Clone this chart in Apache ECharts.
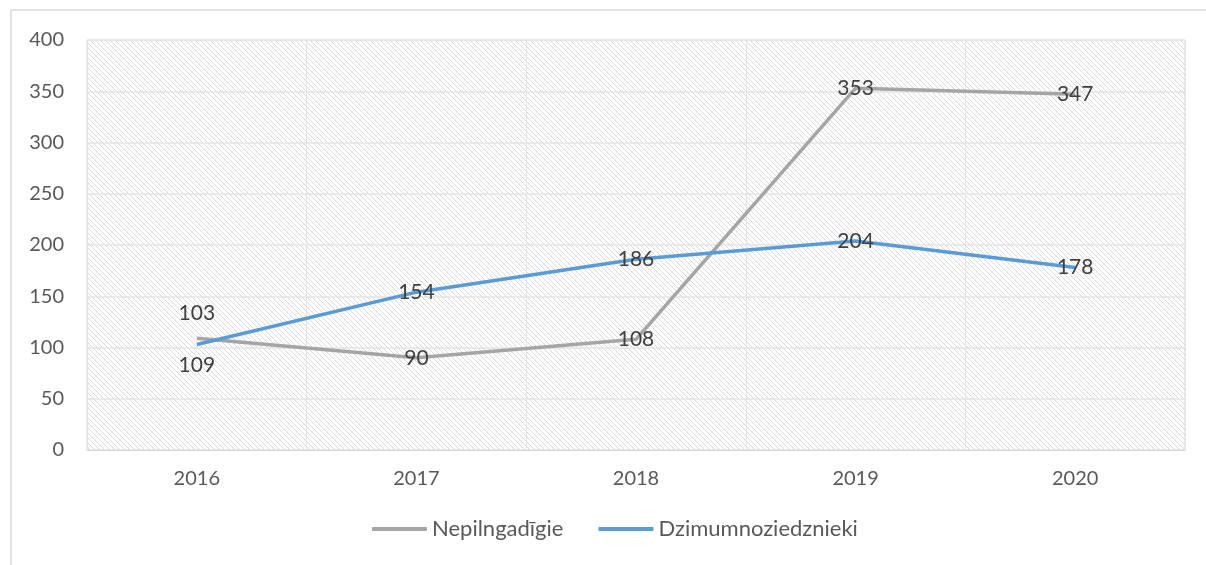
<!DOCTYPE html>
<html>
<head>
<meta charset="UTF-8">
<title></title>
<script src="https://cdn.jsdelivr.net/npm/echarts@6/dist/echarts.min.js"></script>
<style>
  html, body { margin: 0; padding: 0; background: #fff; }
  #chart { width: 1206px; height: 565px; }
</style>
</head>
<body>
<div id="chart"></div>
<script>
var years = ['2016', '2017', '2018', '2019', '2020'];
var nepilngadigie = [109, 90, 108, 353, 347];
var dzimum = [103, 154, 186, 204, 178];
var yTicks = [0, 50, 100, 150, 200, 250, 300, 350, 400];

// hatched plot background
var cv = document.createElement('canvas');
cv.width = 5; cv.height = 5;
var cx = cv.getContext('2d');
cx.fillStyle = '#ffffff';
cx.fillRect(0, 0, 5, 5);
cx.strokeStyle = '#d9d9d9';
cx.lineWidth = 1;
cx.beginPath();
cx.moveTo(-1, -1); cx.lineTo(6, 6);
cx.moveTo(-1, 4); cx.lineTo(2, 7);
cx.moveTo(4, -1); cx.lineTo(7, 2);
cx.stroke();

var chart = echarts.init(document.getElementById('chart'));

function mkData(vals, special) {
  var out = [];
  for (var i = 0; i < vals.length; i++) {
    if (special && special[i] !== undefined) {
      out.push({ value: vals[i], label: { offset: [0, special[i]] } });
    } else {
      out.push(vals[i]);
    }
  }
  return out;
}

var lblStyle = {
  show: true,
  position: 'inside',
  color: '#404040',
  fontSize: 21,
  fontFamily: 'Lato'
};

var option = {
  animation: false,
  textStyle: { fontFamily: 'Lato' },
  graphic: [{
    type: 'rect',
    shape: { x: 11, y: 10, width: 1300, height: 700 },
    style: { fill: 'none', stroke: '#d9d9d9', lineWidth: 1.5 },
    silent: true
  }],
  grid: {
    left: 87, right: 21, top: 40, bottom: 115,
    show: true,
    backgroundColor: { image: cv, repeat: 'repeat' },
    borderColor: '#d9d9d9',
    borderWidth: 1
  },
  legend: {
    bottom: 20,
    left: 367,
    icon: 'roundRect',
    itemWidth: 55,
    itemHeight: 4,
    itemGap: 35,
    textStyle: { color: '#595959', fontSize: 22, fontFamily: 'Lato' },
    data: ['Nepilngadīgie', 'Dzimumnoziedznieki']
  },
  xAxis: {
    type: 'category',
    data: years,
    boundaryGap: true,
    axisLine: { lineStyle: { color: '#d9d9d9', width: 1 } },
    axisTick: { show: false },
    axisLabel: { color: '#595959', fontSize: 20, margin: 19 },
    splitLine: { show: true, lineStyle: { color: '#e4e4e4', width: 1 } }
  },
  yAxis: {
    type: 'value',
    min: yTicks[0],
    max: yTicks[yTicks.length - 1],
    interval: 50,
    axisLine: { show: false },
    axisTick: { show: false },
    axisLabel: { color: '#595959', fontSize: 20, margin: 23 },
    splitLine: { lineStyle: { color: '#e4e4e4', width: 1.5 } }
  },
  series: [{
    name: 'Nepilngadīgie',
    type: 'line',
    data: mkData(nepilngadigie, { 0: 27 }),
    symbol: 'circle',
    symbolSize: 0.1,
    color: '#a5a5a5',
    lineStyle: { color: '#a5a5a5', width: 3.5 },
    label: lblStyle,
    z: 3
  }, {
    name: 'Dzimumnoziedznieki',
    type: 'line',
    data: mkData(dzimum, { 0: -31 }),
    symbol: 'circle',
    symbolSize: 0.1,
    color: '#5b9bd5',
    lineStyle: { color: '#5b9bd5', width: 3.5 },
    label: lblStyle,
    z: 4
  }]
};

chart.setOption(option);
window.onresize = chart.resize;
</script>
</body>
</html>
